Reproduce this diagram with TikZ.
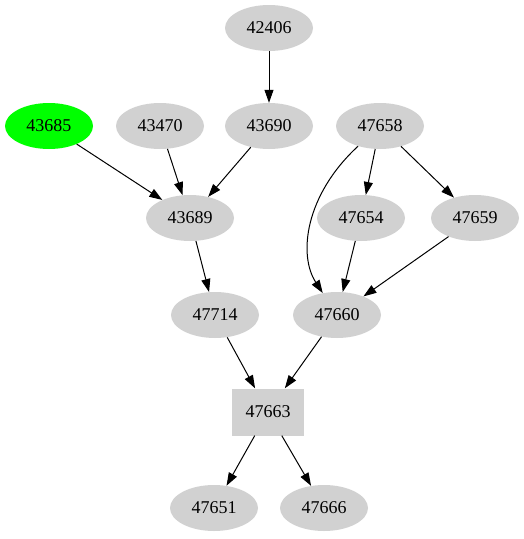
\documentclass[tikz,border=0pt]{standalone}
\usepackage{fontspec}
\setmainfont{Liberation Serif}
\usetikzlibrary{arrows.meta,shapes.geometric}
\begin{document}
\begin{tikzpicture}[x=1pt,y=-1pt,
  nd/.style={ellipse,fill=black!18,minimum width=88pt,minimum height=46pt,inner sep=0pt,font=\fontsize{18pt}{20pt}\selectfont},
  bx/.style={rectangle,fill=black!18,minimum width=72pt,minimum height=47pt,inner sep=0pt,font=\fontsize{18pt}{20pt}\selectfont},
  ed/.style={-{Triangle[length=13pt,width=9pt]},line width=1pt}]
\useasboundingbox (0,0) rectangle (524,539);
\node[nd] (a42406) at (269,28) {42406};
\node[nd,fill=green] (a43685) at (49,126) {43685};
\node[nd] (a43470) at (160,126) {43470};
\node[nd] (a43690) at (269,126) {43690};
\node[nd] (a47658) at (380,126) {47658};
\node[nd] (a43689) at (190,218) {43689};
\node[nd] (a47654) at (361,218) {47654};
\node[nd] (a47659) at (475,218) {47659};
\node[nd] (a47714) at (215,315) {47714};
\node[nd] (a47660) at (337,315) {47660};
\node[bx] (a47663) at (268,412) {47663};
\node[nd] (a47651) at (214,508) {47651};
\node[nd] (a47666) at (324,508) {47666};
\draw[ed] (a42406) -- (a43690);
\draw[ed] (a43685) -- (a43689);
\draw[ed] (a43470) -- (a43689);
\draw[ed] (a43690) -- (a43689);
\draw[ed] (a47658) -- (a47654);
\draw[ed] (a47658) -- (a47659);
\draw[ed] (a47658) .. controls (305,195) and (298,255) .. (a47660);
\draw[ed] (a47654) -- (a47660);
\draw[ed] (a47659) -- (a47660);
\draw[ed] (a43689) -- (a47714);
\draw[ed] (a47714) -- (a47663);
\draw[ed] (a47660) -- (a47663);
\draw[ed] (a47663) -- (a47651);
\draw[ed] (a47663) -- (a47666);
\end{tikzpicture}
\end{document}
